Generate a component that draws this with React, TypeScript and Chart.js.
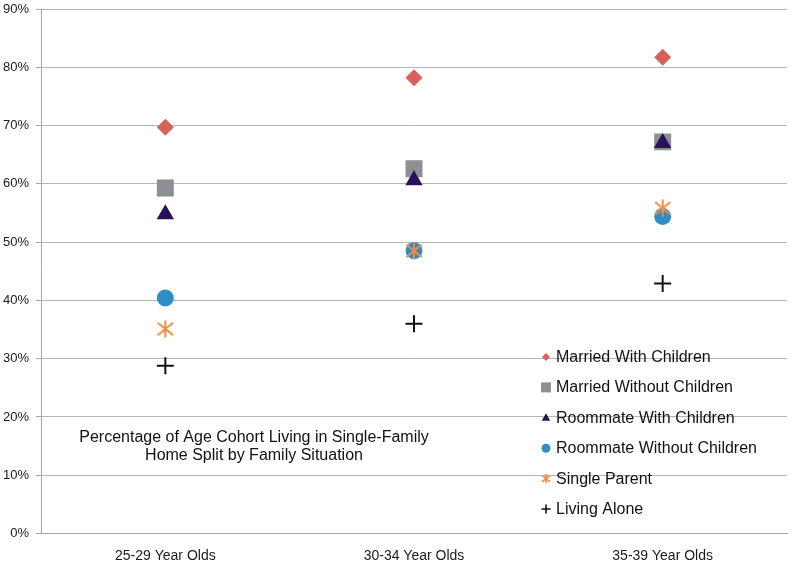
import React, { useEffect, useRef } from "react";
import { Chart, registerables } from "chart.js";

Chart.register(...registerables);

const categories = ["25-29 Year Olds", "30-34 Year Olds", "35-39 Year Olds"];
const seriesNames = [
  "Married With Children",
  "Married Without Children",
  "Roommate With Children",
  "Roommate Without Children",
  "Single Parent",
  "Living Alone",
];
const marriedWithChildren = [69.7, 78.2, 81.7];
const marriedWithoutChildren = [59.3, 62.6, 67.2];
const roommateWithChildren = [54.8, 60.6, 67.0];
const roommateWithoutChildren = [40.4, 48.5, 54.4];
const singleParent = [35.1, 48.5, 55.8];
const livingAlone = [28.8, 36.0, 42.9];
const yTicks = [0, 10, 20, 30, 40, 50, 60, 70, 80, 90];
const titleLines = [
  "Percentage of Age Cohort Living in Single-Family",
  "Home Split by Family Situation",
];

const COLORS = ["#D7625C", "#8C8F94", "#2A0F5C", "#2E8EC6", "#F58B3F", "#111111"];
const FONT = "'Liberation Sans', Arial, sans-serif";

function makeStar(size: number, color: string, lw: number): HTMLCanvasElement {
  const c = document.createElement("canvas");
  c.width = size;
  c.height = size;
  const ctx = c.getContext("2d")!;
  const h = size / 2;
  ctx.strokeStyle = color;
  ctx.lineWidth = lw;
  ctx.lineCap = "butt";
  ctx.beginPath();
  ctx.moveTo(h, 0.5);
  ctx.lineTo(h, size - 0.5);
  const dx = h * 0.85;
  const dy = h * 0.7;
  ctx.moveTo(h - dx, h - dy);
  ctx.lineTo(h + dx, h + dy);
  ctx.moveTo(h + dx, h - dy);
  ctx.lineTo(h - dx, h + dy);
  ctx.stroke();
  return c;
}

function drawLegendMarker(ctx: CanvasRenderingContext2D, i: number, x: number, y: number) {
  const color = COLORS[i];
  ctx.save();
  ctx.fillStyle = color;
  ctx.strokeStyle = color;
  ctx.beginPath();
  if (i === 0) {
    const r = 4;
    ctx.moveTo(x, y - r);
    ctx.lineTo(x + r, y);
    ctx.lineTo(x, y + r);
    ctx.lineTo(x - r, y);
    ctx.closePath();
    ctx.fill();
  } else if (i === 1) {
    ctx.rect(x - 5, y - 5, 10, 10);
    ctx.fill();
  } else if (i === 2) {
    ctx.moveTo(x, y - 4.5);
    ctx.lineTo(x + 4.2, y + 3);
    ctx.lineTo(x - 4.2, y + 3);
    ctx.closePath();
    ctx.fill();
  } else if (i === 3) {
    ctx.arc(x, y, 4.5, 0, Math.PI * 2);
    ctx.fill();
  } else if (i === 4) {
    ctx.lineWidth = 1.6;
    ctx.moveTo(x, y - 4.5);
    ctx.lineTo(x, y + 4.5);
    ctx.moveTo(x - 4, y - 3.2);
    ctx.lineTo(x + 4, y + 3.2);
    ctx.moveTo(x + 4, y - 3.2);
    ctx.lineTo(x - 4, y + 3.2);
    ctx.stroke();
  } else {
    ctx.lineWidth = 1.6;
    ctx.moveTo(x, y - 4.5);
    ctx.lineTo(x, y + 4.5);
    ctx.moveTo(x - 4.5, y);
    ctx.lineTo(x + 4.5, y);
    ctx.stroke();
  }
  ctx.restore();
}

const overlayPlugin = {
  id: "overlayPlugin",
  afterDraw(chart: any) {
    const ctx: CanvasRenderingContext2D = chart.ctx;
    ctx.save();
    // Title inside plot
    ctx.fillStyle = "#111111";
    ctx.font = `16px ${FONT}`;
    ctx.textAlign = "center";
    ctx.textBaseline = "middle";
    titleLines.forEach((t, k) => ctx.fillText(t, 254, 438 + k * 17.5));
    // Legend
    ctx.textAlign = "left";
    ctx.font = `16px ${FONT}`;
    seriesNames.forEach((name, i) => {
      const y = 357 + i * 30.4;
      drawLegendMarker(ctx, i, 546, y);
      ctx.fillStyle = "#111111";
      ctx.fillText(name, 556, y + 0.5);
    });
    ctx.restore();
  },
};

export default function App() {
  const ref = useRef<HTMLCanvasElement | null>(null);

  useEffect(() => {
    if (!ref.current) return;
    const star = makeStar(18, COLORS[4], 2);
    const values = [
      marriedWithChildren,
      marriedWithoutChildren,
      roommateWithChildren,
      roommateWithoutChildren,
      singleParent,
      livingAlone,
    ];
    const styles: any[] = ["rectRot", "rect", "triangle", "circle", star, "cross"];
    const radii = [8.5, 12, 10, 8.5, 9, 8.5];
    const datasets = values.map((data, i) => ({
      label: seriesNames[i],
      data,
      showLine: false,
      pointStyle: styles[i],
      pointRadius: radii[i],
      pointHoverRadius: radii[i],
      backgroundColor: COLORS[i],
      borderColor: COLORS[i],
      pointBorderWidth: i === 5 ? 2 : 0,
      pointHoverBorderWidth: i === 5 ? 2 : 0,
      order: 10 - i,
    }));

    const chart = new Chart(ref.current, {
      type: "line",
      data: { labels: categories, datasets },
      options: {
        animation: false,
        responsive: false,
        devicePixelRatio: 1,
        events: [],
        layout: { autoPadding: false, padding: { left: 0, top: 9, right: 13, bottom: 0 } },
        plugins: {
          legend: { display: false },
          tooltip: { enabled: false },
          title: { display: false },
        },
        scales: {
          x: {
            type: "category",
            offset: true,
            grid: { display: false },
            border: { display: true, color: "#a6a6a6", width: 1 },
            ticks: {
              color: "#1a1a1a",
              font: { family: FONT, size: 14 },
              padding: 6,
              maxRotation: 0,
            },
            afterFit(scale: any) {
              scale.height = 49.5;
              scale.paddingLeft = 0;
              scale.paddingRight = 0;
            },
          },
          y: {
            min: 0,
            max: 90,
            afterBuildTicks(scale: any) {
              scale.ticks = yTicks.map((v) => ({ value: v }));
            },
            grid: {
              color: "#b5b5b5",
              lineWidth: 1,
              drawTicks: true,
              tickLength: 5,
              tickColor: "#a6a6a6",
            },
            border: { display: true, color: "#a6a6a6", width: 1 },
            ticks: {
              color: "#1a1a1a",
              font: { family: FONT, size: 13 },
              padding: 7,
              callback: (v: any) => `${v}%`,
            },
            afterFit(scale: any) {
              scale.width = 41;
              scale.paddingTop = 0;
              scale.paddingBottom = 0;
            },
          },
        },
      },
      plugins: [overlayPlugin],
    });
    return () => chart.destroy();
  }, []);

  return (
    <div style={{ position: "absolute", left: 0, top: 0, width: 800, height: 583, background: "#ffffff" }}>
      <canvas ref={ref} width={800} height={583} style={{ width: 800, height: 583, display: "block" }} />
    </div>
  );
}
